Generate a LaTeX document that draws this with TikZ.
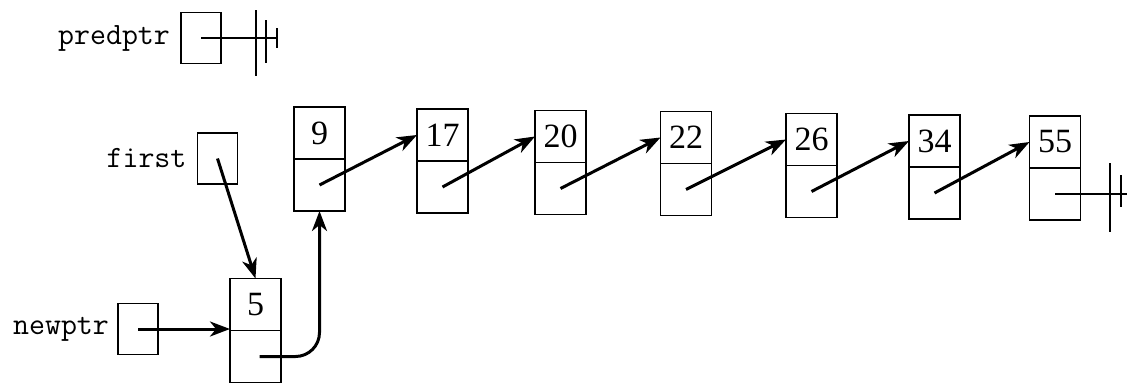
\documentclass[tikz,border=0pt]{standalone}
\usepackage{fontspec}
\setmainfont{Liberation Serif}
\usetikzlibrary{arrows.meta,positioning}

\begin{document}
\begin{tikzpicture}[x=1pt,y=-1pt,
		cell/.style={draw, line width=1.8pt, minimum width=51pt, minimum height=52pt, inner sep=0pt, outer sep=0pt, font=\fontsize{34}{36}\selectfont},
		ptrbox/.style={draw, line width=1.8pt, minimum width=40pt, minimum height=51pt, inner sep=0pt},
		lbl/.style={font=\ttfamily\fontsize{31}{34}\selectfont, inner sep=0pt},
		link/.style={-{Stealth[length=20pt,width=15pt,inset=6pt]}, line width=3pt},
		nil/.style={line width=1.8pt}]
			\useasboundingbox (0,0) rectangle (1127,384);
			\node[ptrbox] (pp) at (201,38) {};
			\node[lbl, left=10pt of pp] (pplbl) {predptr};
			\node[ptrbox] (fb) at (217.5,158.5) {};
			\node[lbl, left=10pt of fb] (fblbl) {first};
			\node[ptrbox] (nb) at (138,329) {};
			\node[lbl, left=8pt of nb] (nblbl) {newptr};
			\node[cell] (d5) at (255.5,304.5) {5};
			\node[cell, below=0pt of d5] (p5) {};
			\node[cell] (d9) at (319.5,133) {9};
			\node[cell, below=0pt of d9] (p9) {};
			\node[cell] (d17) at (442.5,135) {17};
			\node[cell, below=0pt of d17] (p17) {};
			\node[cell] (d20) at (560.5,136.5) {20};
			\node[cell, below=0pt of d20] (p20) {};
			\node[cell] (d22) at (686,137.5) {22};
			\node[cell, below=0pt of d22] (p22) {};
			\node[cell] (d26) at (811.5,139.5) {26};
			\node[cell, below=0pt of d26] (p26) {};
			\node[cell] (d34) at (934.5,141) {34};
			\node[cell, below=0pt of d34] (p34) {};
			\node[cell] (d55) at (1055,142) {55};
			\node[cell, below=0pt of d55] (p55) {};
			\draw[link] (p9.center) -- (d17.west);
			\draw[link] (p17.center) -- (d20.west);
			\draw[link] (p20.center) -- (d22.west);
			\draw[link] (p22.center) -- (d26.west);
			\draw[link] (p26.center) -- (d34.west);
			\draw[link] (p34.center) -- (d55.west);
			\draw[link] (fb.center) -- (d5.north);
			\draw[link] (nb.center) -- (nb.center -| d5.west);
			\draw[link, rounded corners=24pt] ([xshift=4pt]p5.center) -| (p9.south);
			\coordinate (ppend) at (277,38);
			\draw[nil] (pp.center) -- (ppend);
			\draw[nil] (ppend) ++(0,-10) -- ++(0,20);
			\draw[nil] (256,10) -- (256,76);
			\draw[nil] (266,20) -- (266,63);
			\coordinate (nilend) at (1127,194);
			\draw[nil] (p55.center) -- (nilend);
			\draw[nil] (1110,163) -- (1110,232);
			\draw[nil] (1121,175) -- (1121,207);
		\end{tikzpicture}
\end{document}
